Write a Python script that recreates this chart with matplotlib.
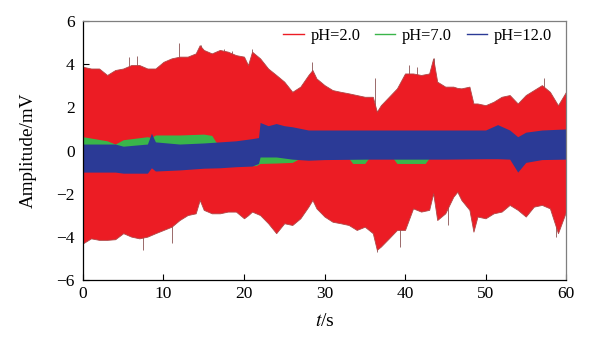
import matplotlib
matplotlib.use("Agg")
import matplotlib.pyplot as plt
import numpy as np

plt.rcParams['font.family'] = ['Liberation Serif', 'DejaVu Serif']
plt.rcParams['mathtext.fontset'] = 'stix'

# ---- data: envelopes of the noise signals ----
series_labels = ['pH=2.0', 'pH=7.0', 'pH=12.0']

# pH=2.0 envelope
t_red = [0, 1, 2, 3, 4, 5, 6, 7, 8, 9, 10, 11, 12, 13, 14, 14.5, 15, 16, 17, 18, 19, 20, 20.5, 21,
         22, 23, 24, 25, 26, 27, 28, 28.5, 29, 30, 31, 32, 33, 34, 35, 36, 36.5, 37, 38, 39, 40,
         41, 42, 43, 43.5, 44, 45, 46, 46.5, 47, 48, 48.5, 49, 50, 51, 52, 53, 54, 55, 56, 57, 58, 59, 60]
red_upper = [3.88, 3.8, 3.8, 3.5, 3.73, 3.8, 3.96, 3.96, 3.8, 3.8, 4.11, 4.27, 4.35, 4.35, 4.5, 4.88,
             4.66, 4.5, 4.66, 4.58, 4.42, 4.35, 3.96, 4.58, 4.27, 3.8, 3.5, 3.19, 2.72, 2.96, 3.5,
             3.73, 3.34, 3.03, 2.8, 2.72, 2.65, 2.57, 2.49, 2.49, 1.8, 2.1, 2.49, 2.88, 3.57, 3.57,
             3.5, 3.57, 4.27, 3.19, 2.96, 2.96, 2.9, 2.88, 2.96, 2.18, 2.18, 2.1, 2.26, 2.49, 2.57,
             2.18, 2.57, 2.8, 3.03, 2.72, 2.1, 2.72]
red_lower = [-4.3, -4.07, -4.14, -4.14, -4.11, -3.83, -3.99, -4.07, -3.99, -3.83, -3.68, -3.53, -3.22,
             -2.99, -2.91, -2.29, -2.75, -2.91, -2.91, -2.83, -2.83, -3.14, -3.0, -2.83, -2.99, -3.37,
             -3.83, -3.37, -3.45, -3.14, -2.6, -2.29, -2.68, -3.06, -3.3, -3.37, -3.45, -3.68, -3.53,
             -3.83, -4.6, -4.45, -4.07, -3.68, -3.68, -2.68, -2.83, -2.75, -1.98, -3.22, -2.91, -2.14,
             -1.91, -2.29, -2.75, -3.76, -3.06, -3.14, -2.91, -2.83, -2.52, -2.75, -3.06, -2.6, -2.52,
             -2.68, -3.83, -2.83]

# isolated spikes on the pH=2.0 trace
spike_t = [5.7, 6.7, 11.9, 14.6, 17.5, 18.5, 21.0, 28.4, 36.3, 40.5, 41.5, 43.6, 57.3,
           7.5, 11.1, 36.5, 39.4, 45.4, 58.7]
spike_v = [4.35, 4.39, 5.0, 4.9, 4.7, 4.6, 4.7, 4.11, 3.34, 3.96, 3.88, 4.3, 3.34,
           -4.6, -4.3, -4.68, -4.45, -3.45, -4.0]

# pH=7.0 envelope
t_green = [0, 3, 4, 5, 8, 8.5, 9, 12, 15, 16, 16.5, 17, 21.5, 22, 24, 26, 27, 33, 33.5, 35,
           35.5, 38.5, 39, 42.5, 43, 60]
green_upper = [0.64, 0.45, 0.3, 0.5, 0.64, 0.6, 0.72, 0.72, 0.76, 0.7, 0.4, 0.3, 0.3, 0.5, 0.5,
               0.5, 0.5, 0.5, 0.5, 0.5, 0.5, 0.5, 0.5, 0.5, 0.5, 0.5]
green_lower = [-0.7, -0.7, -0.7, -0.7, -0.7, -0.7, -0.7, -0.7, -0.7, -0.7, -0.7, -0.7, -0.7,
               -0.6, -0.58, -0.55, -0.35, -0.35, -0.6, -0.6, -0.35, -0.35, -0.6, -0.6, -0.35, -0.35]

# pH=12.0 envelope
t_blue = [0, 4, 5, 8, 8.5, 9, 12, 15, 17, 19, 21, 21.8, 22, 23, 24, 25, 26, 28, 30, 35, 40,
          45, 50, 51.5, 53, 54, 55, 57, 60]
blue_upper = [0.3, 0.3, 0.2, 0.3, 0.8, 0.4, 0.3, 0.35, 0.4, 0.45, 0.55, 0.6, 1.3, 1.15, 1.25,
              1.15, 1.1, 0.95, 0.95, 0.95, 0.95, 0.95, 0.95, 1.2, 0.95, 0.64, 0.85, 0.95, 1.0]
blue_lower = [-1.0, -1.0, -1.05, -1.05, -0.8, -0.95, -0.9, -0.82, -0.8, -0.75, -0.72, -0.6, -0.3,
              -0.3, -0.3, -0.35, -0.4, -0.45, -0.42, -0.4, -0.4, -0.4, -0.38, -0.38, -0.4, -1.0,
              -0.55, -0.42, -0.4]

x_ticks = [0, 10, 20, 30, 40, 50, 60]
y_ticks = [-6, -4, -2, 0, 2, 4, 6]

# ---- style ----
c_red = '#EC1C24'
c_green = '#3AB54A'
c_blue = '#2B3A96'

fig = plt.figure(figsize=(5.94, 3.39), dpi=100)
ax = fig.add_axes([0.1397, 0.174, 0.8132, 0.764])

ax.fill_between(t_red, red_lower, red_upper, color=c_red, lw=0.6, edgecolor='#b04848', zorder=2)
ax.vlines(spike_t, 0, spike_v, color='#9a6a6a', lw=0.7, zorder=1.5)
ax.fill_between(t_green, green_lower, green_upper, color=c_green, lw=0, zorder=3)
ax.fill_between(t_blue, blue_lower, blue_upper, color=c_blue, lw=0, zorder=4)

# legend proxies
h = [plt.Line2D([], [], color=c, lw=1.0) for c in (c_red, c_green, c_blue)]
ax.legend(h, series_labels, loc='upper right', ncol=3, frameon=False, fontsize=11.8,
          handlelength=1.25, handletextpad=0.4, columnspacing=0.9,
          bbox_to_anchor=(1.0, 1.028), borderaxespad=0.45)

ax.set_xlim(0, 60)
ax.set_ylim(-6, 6)
ax.set_xticks(x_ticks)
ax.set_yticks(y_ticks)
ax.set_yticklabels(['\u22126', '\u22124', '\u22122', '0', '2', '4', '6'])
ax.tick_params(direction='in', length=4, width=0.8, labelsize=12.5, top=False, right=False,
               colors='black')
ax.tick_params(axis='x', pad=4)
ax.tick_params(axis='y', pad=6)
for s in ('top', 'right'):
    ax.spines[s].set_color('#7f7f7f')
for s in ('left', 'bottom'):
    ax.spines[s].set_color('black')
for s in ax.spines.values():
    s.set_linewidth(0.9)
    s.set_zorder(6)

ax.set_xlabel(r'$t$/s', fontsize=14, labelpad=8)
ax.set_ylabel('Amplitude/mV', fontsize=13.8, labelpad=14)

fig.savefig('out.png', dpi=100)
